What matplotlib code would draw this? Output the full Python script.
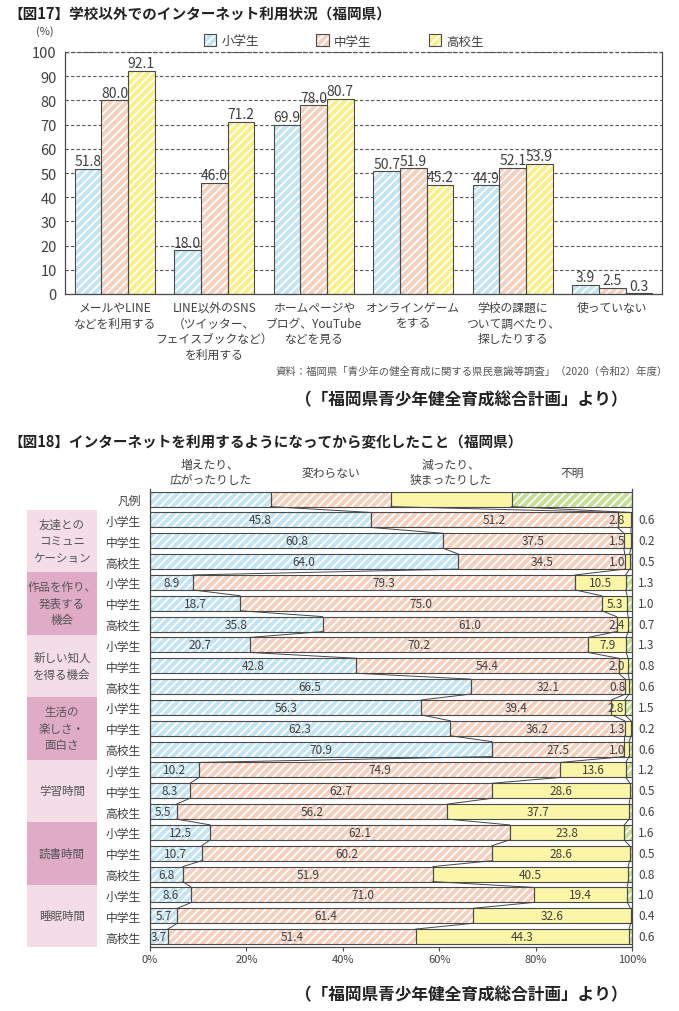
import matplotlib
matplotlib.use('Agg')
import matplotlib.pyplot as plt
from matplotlib.patches import Rectangle, Patch
import numpy as np

plt.rcParams['font.family'] = ['Noto Sans CJK JP', 'DejaVu Sans']
plt.rcParams['hatch.linewidth'] = 1.3

# ---------------- Data: Fig 17 ----------------
cats17 = ['メールやLINE\nなどを利用する',
          'LINE以外のSNS\n（ツイッター、\nフェイスブックなど）\nを利用する',
          'ホームページや\nブログ、YouTube\nなどを見る',
          'オンラインゲーム\nをする',
          '学校の課題に\nついて調べたり、\n探したりする',
          '使っていない']
series17 = ['小学生', '中学生', '高校生']
elem17 = [51.8, 18.0, 69.9, 50.7, 44.9, 3.9]
middle17 = [80.0, 46.0, 78.0, 51.9, 52.1, 2.5]
high17 = [92.1, 71.2, 80.7, 45.2, 53.9, 0.3]
yticks17 = [0, 10, 20, 30, 40, 50, 60, 70, 80, 90, 100]

# ---------------- Data: Fig 18 ----------------
topics18 = ['友達との\nコミュニ\nケーション', '作品を作り、\n発表する\n機会', '新しい知人\nを得る機会',
            '生活の\n楽しさ・\n面白さ', '学習時間', '読書時間', '睡眠時間']
grades18 = ['小学生', '中学生', '高校生']
resp18 = ['増えたり、\n広がったりした', '変わらない', '減ったり、\n狭まったりした', '不明']
increased18 = [45.8, 60.8, 64.0, 8.9, 18.7, 35.8, 20.7, 42.8, 66.5, 56.3, 62.3, 70.9,
               10.2, 8.3, 5.5, 12.5, 10.7, 6.8, 8.6, 5.7, 3.7]
unchanged18 = [51.2, 37.5, 34.5, 79.3, 75.0, 61.0, 70.2, 54.4, 32.1, 39.4, 36.2, 27.5,
               74.9, 62.7, 56.2, 62.1, 60.2, 51.9, 71.0, 61.4, 51.4]
decreased18 = [2.8, 1.5, 1.0, 10.5, 5.3, 2.4, 7.9, 2.0, 0.8, 2.8, 1.3, 1.0,
               13.6, 28.6, 37.7, 23.8, 28.6, 40.5, 19.4, 32.6, 44.3]
unknown18 = [0.6, 0.2, 0.5, 1.3, 1.0, 0.7, 1.3, 0.8, 0.6, 1.5, 0.2, 0.6,
             1.2, 0.5, 0.6, 1.6, 0.5, 0.8, 1.0, 0.4, 0.6]
xticks18 = [0, 20, 40, 60, 80, 100]

# ---------------- Styles ----------------
C_BLUE = '#c4e4f3'
C_PINK = '#f6d0bf'
C_YEL = '#faf08a'
C_YEL2 = '#fbf5a8'
C_GRN = '#c6df97'
EDGE = '#4a4a4a'
TXT = '#404040'
HATCH = '////'

W, H = 679, 1012
fig = plt.figure(figsize=(W / 100, H / 100), dpi=100)

def fx(px):
    return px / W

def fy(py):
    return 1 - py / H

# ================= Fig 17 =================
fig.text(fx(8), fy(15), '【図17】学校以外でのインターネット利用状況（福岡県）',
         fontsize=10.5, fontweight='bold', color='#222222', ha='left', va='center')

ax1 = fig.add_axes([fx(65), fy(295), fx(597), 242 / H])
x = np.arange(len(cats17))
bw = 0.267
for k, (vals, col) in enumerate(zip([elem17, middle17, high17], [C_BLUE, C_PINK, C_YEL])):
    pos = x + (k - 1) * bw
    ax1.bar(pos, vals, bw, color=col, hatch=HATCH, edgecolor='white', linewidth=0, zorder=2)
    ax1.bar(pos, vals, bw, facecolor='none', edgecolor=EDGE, linewidth=0.8, zorder=3)
    for p, v in zip(pos, vals):
        ax1.annotate(f'{v:.1f}', (p, v), xytext=(0, 0.5), textcoords='offset points',
                     ha='center', va='bottom', fontsize=10, color=TXT)

ax1.set_xlim(-0.5, 5.5)
ax1.set_ylim(0, 100)
ax1.set_yticks(yticks17)
ax1.set_xticks(x)
ax1.set_xticklabels(cats17, fontsize=8.5, color=TXT, linespacing=1.25)
ax1.tick_params(axis='y', length=0, labelsize=10.5, labelcolor=TXT, pad=6)
ax1.tick_params(axis='x', length=0, pad=5)
ax1.yaxis.grid(True, linestyle=(0, (3, 2)), color='#555555', linewidth=0.8)
ax1.set_axisbelow(True)
ax1.spines['top'].set_visible(False)
for s in ['left', 'right', 'bottom']:
    ax1.spines[s].set_color(EDGE)
    ax1.spines[s].set_linewidth(0.9)
ax1.axhline(100, linestyle=(0, (3, 2)), color='#555555', linewidth=0.9, clip_on=False)

fig.text(fx(45), fy(32), '(%)', fontsize=8, color=TXT, ha='center', va='center')

handles = [(Patch(facecolor=c, hatch=HATCH, edgecolor='white', linewidth=0),
            Patch(facecolor='none', edgecolor=EDGE, linewidth=0.8))
           for c in [C_BLUE, C_PINK, C_YEL]]
ax1.legend(handles, series17, loc='center', bbox_to_anchor=(0.467, 1.045), ncol=3,
           frameon=False, fontsize=9, labelcolor=TXT, handlelength=1.0, handleheight=1.1,
           handletextpad=0.4, columnspacing=4.6, borderaxespad=0)

fig.text(fx(668), fy(372), '資料：福岡県「青少年の健全育成に関する県民意識等調査」（2020（令和2）年度）',
         fontsize=7.5, color='#555555', ha='right', va='center')
fig.text(fx(461), fy(400), '（「福岡県青少年健全育成総合計画」より）',
         fontsize=12, fontweight='bold', color='#222222', ha='center', va='center')

# ================= Fig 18 =================
fig.text(fx(8), fy(442), '【図18】インターネットを利用するようになってから変化したこと（福岡県）',
         fontsize=10.5, fontweight='bold', color='#222222', ha='left', va='center')

ax2 = fig.add_axes([fx(150), fy(948), fx(482), 458.3 / H])
nrows = len(increased18)
ypos = np.arange(1, nrows + 1)
bh = 0.72
series = [increased18, unchanged18, decreased18, unknown18]
colors = [C_BLUE, C_PINK, C_YEL2, C_GRN]
hatches = [HATCH, HATCH, None, HATCH]

# legend row (equal segments)
nseg = len(resp18)
seg = 100 / nseg
for i, (c, ht) in enumerate(zip(colors, hatches)):
    ax2.barh(0, seg, bh, left=i * seg, color=c, hatch=ht, edgecolor='white', linewidth=0, zorder=2)
    ax2.barh(0, seg, bh, left=i * seg, facecolor='none', edgecolor=EDGE, linewidth=0.8, zorder=3)
    ax2.text(seg * (i + 0.5), -1.3, resp18[i], ha='center', va='center', fontsize=8.5,
             color=TXT, linespacing=1.2, clip_on=False)

left = np.zeros(nrows)
cums = []
for vals, c, ht in zip(series, colors, hatches):
    vals = np.array(vals)
    ax2.barh(ypos, vals, bh, left=left, color=c, hatch=ht, edgecolor='white', linewidth=0, zorder=2)
    ax2.barh(ypos, vals, bh, left=left, facecolor='none', edgecolor=EDGE, linewidth=0.8, zorder=3)
    left = left + vals
    cums.append(left.copy())

# labels
inc = np.array(increased18)
unc = np.array(unchanged18)
dec = np.array(decreased18)
for i in range(nrows):
    y = ypos[i]
    ax2.text(inc[i] / 2, y, f'{inc[i]:.1f}', ha='center', va='center', fontsize=8.5, color=TXT, zorder=5)
    ax2.text(inc[i] + unc[i] / 2, y, f'{unc[i]:.1f}', ha='center', va='center', fontsize=8.5, color=TXT, zorder=5)
    end3 = inc[i] + unc[i] + dec[i]
    if dec[i] < 4:
        ax2.text(min(end3 - 0.2, 98.6), y, f'{dec[i]:.1f}', ha='right', va='center', fontsize=8.5, color=TXT, zorder=5)
    else:
        ax2.text(end3 - dec[i] / 2, y, f'{dec[i]:.1f}', ha='center', va='center', fontsize=8.5, color=TXT, zorder=5)
    ax2.text(101.3, y, f'{unknown18[i]:.1f}', ha='left', va='center', fontsize=8.5, color=TXT, clip_on=False)

# connecting lines
for k in range(3):
    b = np.concatenate([[seg * (k + 1)], cums[k]])
    yy = np.concatenate([[0], ypos])
    xs, ys = [], []
    for r in range(len(b) - 1):
        xs += [b[r], b[r + 1], np.nan]
        ys += [yy[r] + bh / 2, yy[r + 1] - bh / 2, np.nan]
    ax2.plot(xs, ys, color='#444444', linewidth=0.7, zorder=4)

ax2.set_xlim(0, 100)
ax2.set_ylim(nrows + 0.5, -0.5)
ax2.set_yticks(np.arange(0, nrows + 1))
ax2.set_yticklabels(['凡例'] + grades18 * len(topics18))
ax2.tick_params(axis='y', length=0, labelsize=8.5, labelcolor=TXT, pad=6.5)
ax2.set_xticks(xticks18)
ax2.set_xticklabels([f'{t}%' for t in xticks18])
ax2.tick_params(axis='x', length=3, width=0.8, color=EDGE, labelsize=8, labelcolor=TXT, pad=2)
ax2.spines['top'].set_visible(False)
for s in ['left', 'right', 'bottom']:
    ax2.spines[s].set_color(EDGE)
    ax2.spines[s].set_linewidth(0.9)

box_cols = ['#f4dde7', '#e0abc4']
for g, topic in enumerate(topics18):
    y0 = 1 + 3 * g - 0.5
    ax2.add_patch(Rectangle((-25.5, y0), 14.5, 3, facecolor=box_cols[g % 2], edgecolor='none',
                            clip_on=False, zorder=1))
    ax2.text(-18.25, 2 + 3 * g, topic, ha='center', va='center', fontsize=8.3, color='#555555',
             linespacing=1.35, clip_on=False)

fig.text(fx(461), fy(995), '（「福岡県青少年健全育成総合計画」より）',
         fontsize=12, fontweight='bold', color='#222222', ha='center', va='center')

fig.savefig('out.png', dpi=100)
